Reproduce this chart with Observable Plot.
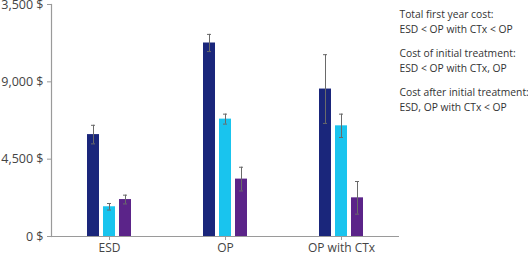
<!DOCTYPE html>
<html><head><meta charset="utf-8">
<script src="https://cdn.jsdelivr.net/npm/d3@7"></script>
<script src="https://cdn.jsdelivr.net/npm/@observablehq/plot@0.6"></script>
<style>body{margin:0;background:#fff;} svg{overflow:visible}</style>
</head><body><div id="chart"></div>
<script>
const groups = ["ESD", "OP", "OP with CTx"];
const series = ["Total first year cost", "Cost of initial treatment", "Cost after initial treatment"];
const totalMean = [5930, 11260, 8580];
const totalErr = [540, 500, 2000];
const initialMean = [1730, 6830, 6440];
const initialErr = [190, 290, 680];
const afterMean = [2150, 3340, 2250];
const afterErr = [255, 690, 950];
const yTicks = [0, 4500, 9000, 13500];
const notes = [
  "Total first year cost:\nESD < OP with CTx < OP",
  "Cost of initial treatment:\nESD < OP with CTx, OP",
  "Cost after initial treatment:\nESD, OP with CTx < OP"
];
const colors = ["#1a267b", "#19c4ee", "#5b2489"];

const means = [totalMean, initialMean, afterMean];
const errs = [totalErr, initialErr, afterErr];
const data = [];
groups.forEach((g, gi) => series.forEach((s, si) => {
  data.push({group: g, series: s, value: means[si][gi], lo: means[si][gi] - errs[si][gi], hi: means[si][gi] + errs[si][gi]});
}));

const font = "'Open Sans', sans-serif";
const noteOffsets = [3, 42, 81];
const plot = Plot.plot({
  width: 528, height: 255,
  marginLeft: 50, marginRight: 129, marginTop: 4, marginBottom: 19,
  style: {fontFamily: font, fontSize: "10px", color: "#444", background: "#fff"},
  fx: {domain: groups, padding: 0, label: null},
  x: {domain: series, paddingInner: 0.26, paddingOuter: 2.07, axis: null},
  y: {domain: [0, 13500], label: null},
  color: {domain: series, range: colors},
  marks: [
    Plot.barY(data, {fx: "group", x: "series", y: "value", fill: "series"}),
    Plot.ruleX(data, {fx: "group", x: "series", y1: "lo", y2: "hi", stroke: "#6a6a6a", strokeWidth: 1}),
    Plot.tickY(data, {fx: "group", x: "series", y: "hi", stroke: "#6a6a6a", insetLeft: 4, insetRight: 4}),
    Plot.tickY(data, {fx: "group", x: "series", y: "lo", stroke: "#6a6a6a", insetLeft: 4, insetRight: 4}),
    Plot.ruleY([0], {stroke: "#9a9a9a", strokeWidth: 1.2}),
    Plot.frame({anchor: "left", facetAnchor: "left", stroke: "#9a9a9a", strokeWidth: 1.2}),
    Plot.axisY({ticks: yTicks, tickSize: 4, tickPadding: 4, stroke: "#9a9a9a", fontSize: 12.5, fill: "#444", tickFormat: d => d3.format(",")(d) + " $", label: null, facetAnchor: "left"}),
    Plot.axisFx({anchor: "bottom", tickSize: 4, tickPadding: 3, stroke: "#9a9a9a", fontSize: 12, fill: "#444", label: null}),
    ...notes.map((n, i) => Plot.text([n], {frameAnchor: "top-right", textAnchor: "start", lineAnchor: "top", dy: noteOffsets[i], lineHeight: 1.45, fill: "#333", fontSize: 10.3, facetAnchor: "right", text: d => d}))
  ]
});
document.getElementById("chart").append(plot);
</script></body></html>
